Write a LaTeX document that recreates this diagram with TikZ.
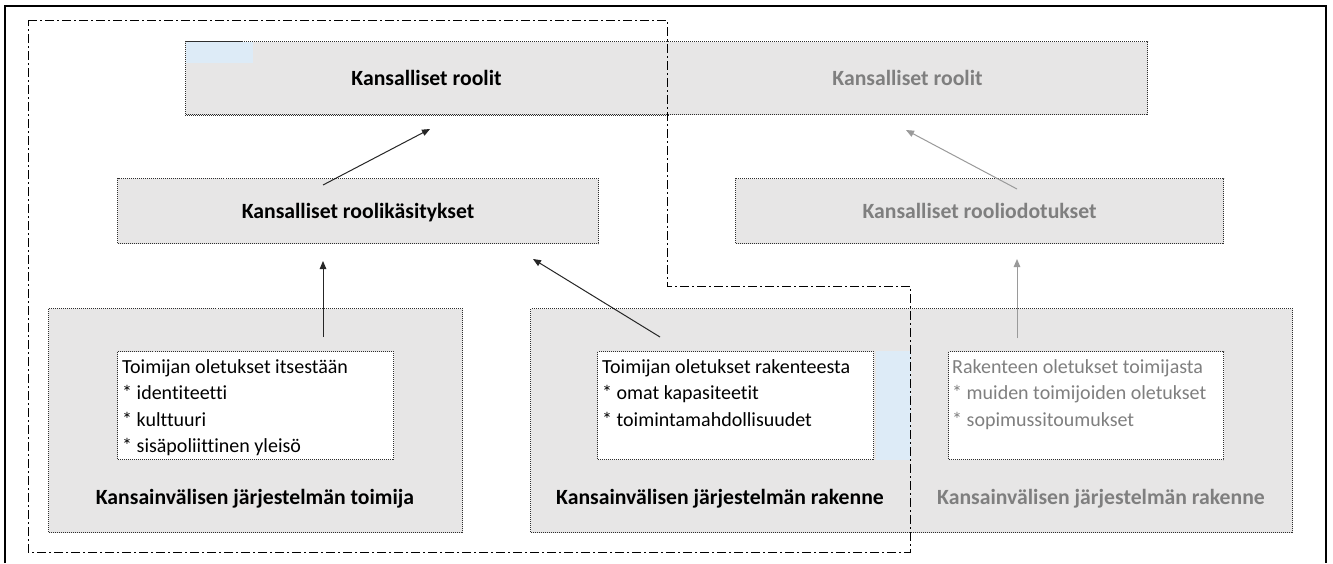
\documentclass[tikz,border=0pt]{standalone}
\usepackage{fontspec}
\setmainfont{Carlito}[Ligatures=NoCommon]
\usetikzlibrary{arrows.meta,calc}
\definecolor{boxgray}{HTML}{E7E6E6}
\definecolor{dotline}{HTML}{2E2E2E}
\definecolor{fadetext}{HTML}{7F7F7F}
\definecolor{fadearrow}{HTML}{9A9A9A}
\definecolor{darkarrow}{HTML}{262626}
\definecolor{paleblue}{HTML}{DDEBF7}
\begin{document}
\begin{tikzpicture}[x=1pt,y=-1pt,
  dotbox/.style={draw=dotline, line width=1pt, dash pattern=on 1pt off 1pt,
    inner sep=0pt, anchor=north west},
  graybox/.style={dotbox, fill=boxgray},
  whitebox/.style={dotbox, fill=white},
  titletext/.style={font=\fontsize{21.7}{26}\selectfont\bfseries, text height=15pt, text depth=0pt},
  bodytext/.style={font=\fontsize{20}{26}\selectfont, anchor=base west, inner sep=0pt},
  fade/.style={text=fadetext},
  darrow/.style={draw=darkarrow, line width=1pt, -{Triangle[length=8pt,width=6.5pt]}},
  farrow/.style={draw=fadearrow, line width=1pt, -{Triangle[length=8pt,width=6.5pt]}},
  dashdot/.style={draw=black, line width=1pt, dash pattern=on 9pt off 3pt on 2pt off 3pt}
]
\useasboundingbox (0,0) rectangle (1333,563);
\fill[white] (0,0) rectangle (1333,563);

% top row
\node[graybox, titletext, minimum width=482pt, minimum height=73pt] (R1) at (185,41) {Kansalliset roolit};
\fill[paleblue] ($(R1.north west)+(0.6,0.6)$) rectangle ++(67,21);
\draw[dotline, line width=1pt, dash pattern=on 1pt off 1pt] (R1.north west) rectangle (R1.south east);
\node[graybox, titletext, fade, minimum width=480pt, minimum height=73pt] (R2) at (667,41) {Kansalliset roolit};
\fill[boxgray] ($(R2.north west)+(-2,1)$) rectangle ($(R2.south west)+(2,-1)$);

% second row
\node[graybox, titletext, minimum width=481pt, minimum height=65pt] (K1) at (117,178) {Kansalliset roolikäsitykset};
\node[graybox, titletext, fade, minimum width=488pt, minimum height=65pt] (K2) at (735,178) {Kansalliset rooliodotukset};

% bottom row
\node[graybox, minimum width=414pt, minimum height=224pt] (G1) at (48,308) {};
\node[graybox, minimum width=380pt, minimum height=224pt] (G2) at (530,308) {};
\node[graybox, minimum width=382pt, minimum height=224pt] (G3) at (910,308) {};
\fill[boxgray] ($(G3.north west)+(-2,1)$) rectangle ($(G3.south west)+(2,-1)$);

\node[whitebox, minimum width=276pt, minimum height=108pt] (W1) at (117,351) {};
\node[whitebox, minimum width=276pt, minimum height=108pt] (W2) at (597,351) {};
\node[whitebox, minimum width=275pt, minimum height=108pt] (W3) at (948,351) {};
\fill[paleblue] ($(W2.north east)+(2,0)$) rectangle ($(G2.east |- W2.south)+(0,0)$);

% texts in white boxes
\node[bodytext] (t1a) at (122,373) {Toimijan oletukset itsestään};
\node[bodytext] (t1b) at (122,399.5) {* identiteetti};
\node[bodytext] (t1c) at (122,426) {* kulttuuri};
\node[bodytext] (t1d) at (122,452.5) {* sisäpoliittinen yleisö};

\node[bodytext] (t2a) at (602,373) {Toimijan oletukset rakenteesta};
\node[bodytext] (t2b) at (602,399.5) {* omat kapasiteetit};
\node[bodytext] (t2c) at (602,426) {* toimintamahdollisuudet};

\node[bodytext, fade] (t3a) at (952,373) {Rakenteen oletukset toimijasta};
\node[bodytext, fade] (t3b) at (952,399.5) {* muiden toimijoiden oletukset};
\node[bodytext, fade] (t3c) at (952,426) {* sopimussitoumukset};

% titles of the bottom boxes
\node[titletext, anchor=base, inner sep=0pt] (g1t) at (255,504) {Kansainvälisen järjestelmän toimija};
\node[titletext, anchor=base, inner sep=0pt] (g2t) at (720,504) {Kansainvälisen järjestelmän rakenne};
\node[titletext, fade, anchor=base, inner sep=0pt] (g3t) at (1101,504) {Kansainvälisen järjestelmän rakenne};

% arrow end points
\coordinate (a1s) at ($(K1.north west)+(206,7)$);
\coordinate (a1e) at ($(R1.south west)+(245,14)$);
\coordinate (a2s) at ($(W1.north west)+(206,-14)$);
\coordinate (a2e) at ($(K1.south west)+(206,17)$);
\coordinate (a3s) at ($(W2.north west)+(63,-14)$);
\coordinate (a3e) at ($(K1.south east)+(-66,15)$);
\coordinate (a4s) at ($(K2.north west)+(282,11)$);
\coordinate (a4e) at ($(R2.south west)+(239,15)$);
\coordinate (a5s) at ($(W3.north west)+(69,-13)$);
\coordinate (a5e) at ($(K2.south west)+(282,15)$);

\draw[darrow] (a1s) -- (a1e);
\draw[darrow] (a2s) -- (a2e);
\draw[darrow] (a3s) -- (a3e);
\draw[farrow] (a4s) -- (a4e);
\draw[farrow] (a5s) -- (a5e);

% dash-dot outline
\draw[dashdot] (28,20) -- (667,20) -- (667,286) -- (910,286) -- (910,552) -- (28,552) -- cycle;

% outer frame
\draw[black, line width=2.5pt] (5,563) -- (5,6) -- (1326,6) -- (1326,563);
\end{tikzpicture}
\end{document}
